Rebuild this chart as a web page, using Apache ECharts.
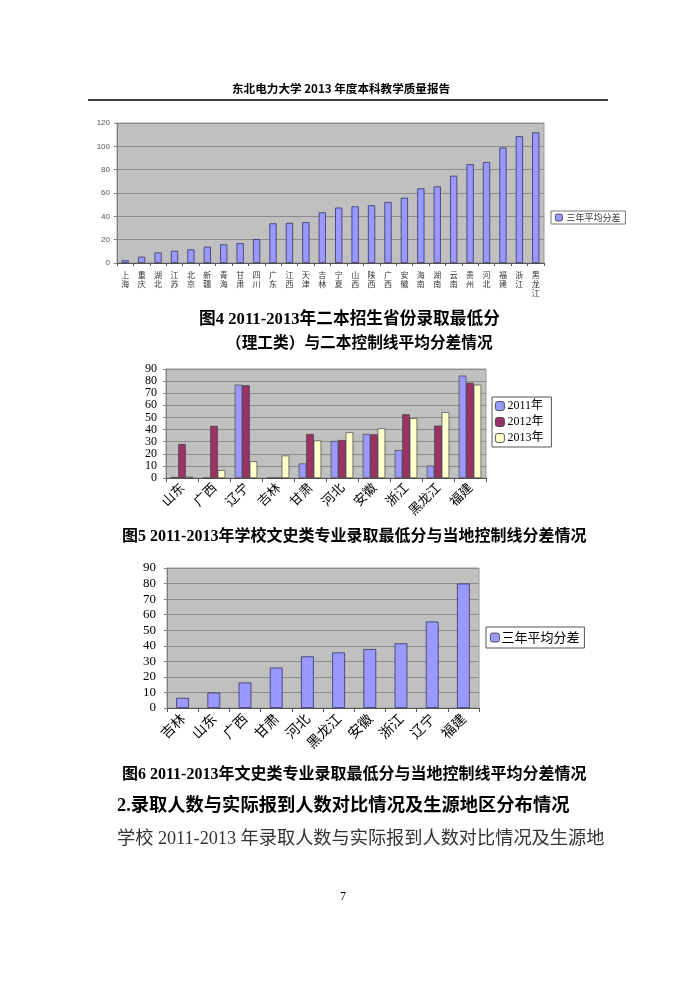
<!DOCTYPE html>
<html><head><meta charset="utf-8">
<script src="https://cdn.jsdelivr.net/npm/echarts@6/dist/echarts.min.js"></script>
<style>html,body{margin:0;padding:0;background:#fff;}#c{width:695px;height:984px;}</style>
</head><body><div id="c"></div>
<script>
// Chart 1 (Fig.4)
const cats1 = ['上海','重庆','湖北','江苏','北京','新疆','青海','甘肃','四川','广东','江西','天津','吉林','宁夏','山西','陕西','广西','安徽','海南','湖南','云南','贵州','河北','福建','浙江','黑龙江'];
const avg1 = [2.3,5.4,9,10.5,11.7,14,16,17,20.5,34,34.4,35,43.5,47.5,48.6,49.5,52.3,56,64,65.7,74.8,84.7,86.5,99,108.7,112];
const ticks1 = [0,20,40,60,80,100,120];
// Chart 2 (Fig.5)
const cats2 = ['山东','广西','辽宁','吉林','甘肃','河北','安徽','浙江','黑龙江','福建'];
const y2011 = [0.8,0,77,0,12,30.5,36.3,23,10.2,84.5];
const y2012 = [28,43,76.5,0,36.3,31.3,36,52.6,43.2,78.6];
const y2013 = [1,6.4,13.8,18.5,31,37.7,41,49.3,54.3,77];
const years2 = ['2011年','2012年','2013年'];
// Chart 3 (Fig.6)
const cats3 = ['吉林','山东','广西','甘肃','河北','黑龙江','安徽','浙江','辽宁','福建'];
const avg3 = [6.5,9.9,16.4,26,33.2,35.7,37.9,41.6,55.6,80];
const seriesName = '三年平均分差';

const SERIF = '"Liberation Serif","DejaVu Serif","Noto Sans CJK SC",serif';
const CJK = '"Noto Sans CJK SC","Liberation Serif",sans-serif';
const SANS = '"Liberation Sans","Noto Sans CJK SC",sans-serif';
const plotBg = '#C0C0C0';
const gridCol = '#8c8c8c';

function yAx(gi, max, interval, fs, fam, col, margin){
  return {type:'value', gridIndex:gi, min:0, max:max, interval:interval,
    axisLine:{show:true, lineStyle:{color:'#808080'}},
    axisTick:{show:true, length:3, lineStyle:{color:'#808080'}},
    axisLabel:{fontSize:fs, fontFamily:fam, color:col, margin:margin},
    splitLine:{show:true, lineStyle:{color:gridCol, width:1}}};
}

const chart = echarts.init(document.getElementById('c'), null, {renderer:'canvas'});
chart.setOption({
  animation:false,
  backgroundColor:'#fff',
  grid:[
    {left:117, top:123, width:427, height:140, show:true, backgroundColor:plotBg, borderColor:'#9a9a9a', borderWidth:1},
    {left:166, top:369, width:320, height:109, show:true, backgroundColor:plotBg, borderColor:'#9a9a9a', borderWidth:1},
    {left:167, top:568, width:312, height:140, show:true, backgroundColor:plotBg, borderColor:'#9a9a9a', borderWidth:1}
  ],
  xAxis:[
    {type:'category', gridIndex:0, data:cats1,
      axisLine:{lineStyle:{color:'#555'}}, axisTick:{show:true,length:3,lineStyle:{color:'#555'}},
      axisLabel:{interval:0, fontSize:8, lineHeight:9, color:'#333', fontFamily:CJK, margin:7,
        formatter:v=>v.split('').join('\n'), verticalAlign:'top'}},
    {type:'category', gridIndex:1, data:cats2,
      axisLine:{lineStyle:{color:'#555'}}, axisTick:{show:true,length:4,lineStyle:{color:'#555'}},
      axisLabel:{interval:0, rotate:45, fontSize:13, color:'#000', fontFamily:CJK, margin:7}},
    {type:'category', gridIndex:2, data:cats3,
      axisLine:{lineStyle:{color:'#555'}}, axisTick:{show:true,length:4,lineStyle:{color:'#555'}},
      axisLabel:{interval:0, rotate:45, fontSize:14, color:'#000', fontFamily:CJK, margin:8}}
  ],
  yAxis:[
    yAx(0, ticks1[ticks1.length-1], 20, 8, SANS, '#555', 7),
    yAx(1, 90, 10, 12, SERIF, '#000', 9),
    yAx(2, 90, 10, 13, SERIF, '#000', 11)
  ],
  legend:[
    {data:[seriesName], left:551, top:211, orient:'vertical', itemWidth:7, itemHeight:7, itemGap:2,
      padding:[2,5,2,4], borderColor:'#777', borderWidth:1, backgroundColor:'#fff',
      textStyle:{fontSize:9, color:'#333', fontFamily:CJK, padding:[0,0,0,-1]},
      itemStyle:{borderColor:'#333', borderWidth:0.8}},
    {data:years2, left:492, top:397, orient:'vertical', itemWidth:9, itemHeight:9, itemGap:4,
      padding:[3,8,3,3], borderColor:'#555', borderWidth:1, backgroundColor:'#fff',
      textStyle:{fontSize:12, color:'#000', fontFamily:SERIF, padding:[0,0,0,-2]},
      itemStyle:{borderColor:'#333', borderWidth:0.8}},
    {data:[{name:seriesName}], left:486, top:627, orient:'vertical', itemWidth:9, itemHeight:9,
      padding:[4,5,4,4], borderColor:'#555', borderWidth:1, backgroundColor:'#fff',
      textStyle:{fontSize:13, color:'#000', fontFamily:CJK, padding:[0,0,0,-3]},
      itemStyle:{borderColor:'#333', borderWidth:0.8}}
  ],
  series:[
    {name:seriesName, type:'bar', xAxisIndex:0, yAxisIndex:0, data:avg1, barWidth:'44%',
      itemStyle:{color:'#9999FF', borderColor:'#333366', borderWidth:0.8}},
    {name:years2[0], type:'bar', xAxisIndex:1, yAxisIndex:1, data:y2011, barGap:'0%', barCategoryGap:'30%',
      itemStyle:{color:'#9999FF', borderColor:'#333', borderWidth:0.6}},
    {name:years2[1], type:'bar', xAxisIndex:1, yAxisIndex:1, data:y2012, barGap:'0%', barCategoryGap:'30%',
      itemStyle:{color:'#993366', borderColor:'#333', borderWidth:0.6}},
    {name:years2[2], type:'bar', xAxisIndex:1, yAxisIndex:1, data:y2013, barGap:'0%', barCategoryGap:'30%',
      itemStyle:{color:'#FFFFCC', borderColor:'#333', borderWidth:0.6}},
    {name:seriesName, type:'bar', xAxisIndex:2, yAxisIndex:2, data:avg3, barWidth:'41%',
      itemStyle:{color:'#9999FF', borderColor:'#333366', borderWidth:0.8}}
  ],
  graphic:[
    {type:'text', left:232, top:83, style:{text:'东北电力大学 2013 年度本科教学质量报告', font:'bold 11.6px '+CJK, fill:'#000'}},
    {type:'line', shape:{x1:88, y1:100, x2:608, y2:100}, style:{stroke:'#000', lineWidth:1.5}},
    {type:'text', left:199, top:311, style:{text:'图4 2011-2013年二本招生省份录取最低分', font:'bold 16.7px '+SERIF, fill:'#000'}},
    {type:'text', left:226, top:334, style:{text:'（理工类）与二本控制线平均分差情况', font:'bold 15.7px '+CJK, fill:'#000'}},
    {type:'text', left:122, top:529, style:{text:'图5 2011-2013年学校文史类专业录取最低分与当地控制线分差情况', font:'bold 16px '+SERIF, fill:'#000'}},
    {type:'text', left:122, top:767, style:{text:'图6 2011-2013年文史类专业录取最低分与当地控制线平均分差情况', font:'bold 16px '+SERIF, fill:'#000'}},
    {type:'text', left:117, top:797, style:{text:'2.录取人数与实际报到人数对比情况及生源地区分布情况', font:'bold 18.3px '+SERIF, fill:'#000'}},
    {type:'text', left:117, top:830, style:{text:'学校 2011-2013 年录取人数与实际报到人数对比情况及生源地', font:'18.2px '+SERIF, fill:'#333'}},
    {type:'text', left:340, top:891, style:{text:'7', font:'12px '+SERIF, fill:'#000'}}
  ]
});
</script></body></html>
